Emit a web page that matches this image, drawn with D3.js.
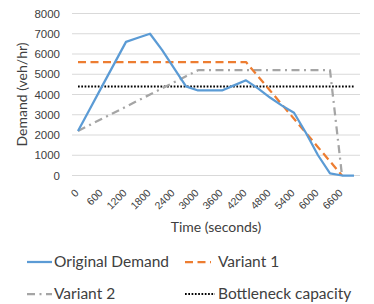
<!DOCTYPE html>
<html>
<head>
<meta charset="utf-8">
<script src="https://cdn.jsdelivr.net/npm/d3@7/dist/d3.min.js"></script>
<style>
  body { margin: 0; background: #fff; }
  svg { display: block; font-family: Lato, "Open Sans", sans-serif; }
</style>
</head>
<body>
<svg id="chart" width="374" height="304"></svg>
<script>
// time categories (seconds), one every 300 s
var times = [0, 300, 600, 900, 1200, 1500, 1800, 2100, 2400, 2700, 3000, 3300,
             3600, 3900, 4200, 4500, 4800, 5100, 5400, 5700, 6000, 6300, 6600, 6900];
var tickLabels = ["0", "600", "1200", "1800", "2400", "3000", "3600", "4200", "4800", "5400", "6000", "6600"];
var yTicks = [0, 1000, 2000, 3000, 4000, 5000, 6000, 7000, 8000];

var originalDemand = [2200, 3300, 4400, 5500, 6600, 6800, 7000, 6200, 5300, 4400, 4200, 4200,
                      4200, 4450, 4700, 4300, 3850, 3450, 3100, 2100, 1000, 100, 0, 0];
var variant1 = [5600, 5600, 5600, 5600, 5600, 5600, 5600, 5600, 5600, 5600, 5600, 5600,
                5600, 5600, 5600, 4900, 4200, 3500, 2800, 2100, 1400, 700, 0, null];
var variant2 = [2200, 2500, 2800, 3100, 3400, 3700, 4000, 4300, 4600, 4900, 5200, 5200,
                5200, 5200, 5200, 5200, 5200, 5200, 5200, 5200, 5200, 5200, 0, null];
var capacity = [4400, 4400, 4400, 4400, 4400, 4400, 4400, 4400, 4400, 4400, 4400, 4400,
                4400, 4400, 4400, 4400, 4400, 4400, 4400, 4400, 4400, 4400, 4400, 4400];

var svg = d3.select("#chart"),
    margin = {top: 13.5, right: 14, bottom: 128.5, left: 72},
    width = +svg.attr("width") - margin.left - margin.right,
    height = +svg.attr("height") - margin.top - margin.bottom,
    g = svg.append("g").attr("transform", "translate(" + margin.left + "," + margin.top + ")");

var x = d3.scalePoint()
    .domain(times)
    .range([0, width])
    .padding(0.5);

var y = d3.scaleLinear()
    .domain([0, 8000])
    .range([height, 0]);

var textColor = "#404040";

/* gridlines */
g.append("g")
    .attr("class", "grid")
  .selectAll("line")
  .data(yTicks)
  .enter().append("line")
    .attr("x1", 0)
    .attr("x2", width)
    .attr("y1", function(d) { return y(d); })
    .attr("y2", function(d) { return y(d); })
    .attr("stroke", "#d9d9d9")
    .attr("stroke-width", 1);

/* y axis */
var yAxis = g.append("g")
    .call(d3.axisLeft(y).tickValues(yTicks).tickSize(0).tickPadding(12).tickFormat(d3.format("d")));
yAxis.select(".domain").remove();
yAxis.selectAll("text")
    .attr("fill", textColor)
    .style("font-size", "11.5px");

/* x axis: label every second category */
var labelTimes = times.filter(function(t) { return tickLabels.indexOf(String(t)) >= 0; });
var xAxis = g.append("g")
    .attr("transform", "translate(0," + height + ")")
    .call(d3.axisBottom(x).tickValues(labelTimes).tickSize(0).tickFormat(function(d) { return String(d); }));
xAxis.select(".domain").remove();
xAxis.selectAll("text")
    .attr("fill", textColor)
    .style("font-size", "10.5px")
    .attr("text-anchor", "end")
    .attr("dy", null)
    .attr("y", 0)
    .attr("transform", "translate(1,18) rotate(-45)");

/* axis titles */
svg.append("text")
    .attr("x", margin.left + width / 2)
    .attr("y", 232)
    .attr("text-anchor", "middle")
    .attr("fill", textColor)
    .style("font-size", "14px")
    .text("Time (seconds)");

svg.append("text")
    .attr("transform", "translate(27," + (margin.top + height / 2) + ") rotate(-90)")
    .attr("text-anchor", "middle")
    .attr("fill", textColor)
    .style("font-size", "14px")
    .text("Demand (veh/hr)");

/* series */
var series = [
  {name: "Original Demand", values: originalDemand, color: "#5b9bd5", width: 2.25, dash: null},
  {name: "Variant 1", values: variant1, color: "#ed7d31", width: 2.25, dash: "8,4.5"},
  {name: "Variant 2", values: variant2, color: "#a5a5a5", width: 2.25, dash: "8,4.5,2,4.5"},
  {name: "Bottleneck capacity", values: capacity, color: "#000000", width: 2, dash: "1.7,1.6"}
];

var line = d3.line()
    .defined(function(d) { return d.v != null; })
    .x(function(d) { return x(d.t); })
    .y(function(d) { return y(d.v); });

var drawOrder = [3, 2, 1, 0];
drawOrder.forEach(function(i) {
  var s = series[i];
  g.append("path")
      .datum(times.map(function(t, j) { return {t: t, v: s.values[j]}; }))
      .attr("fill", "none")
      .attr("stroke", s.color)
      .attr("stroke-width", s.width)
      .attr("stroke-dasharray", s.dash)
      .attr("stroke-linejoin", "round")
      .attr("d", line);
});

/* legend */
var legendPos = [
  {x: 27, y: 262, len: 25}, {x: 185, y: 262, len: 26},
  {x: 27, y: 294, len: 25}, {x: 185, y: 294, len: 30}
];
var legend = svg.selectAll(".legend")
  .data(series)
  .enter().append("g")
    .attr("class", "legend")
    .attr("transform", function(d, i) { return "translate(" + legendPos[i].x + "," + legendPos[i].y + ")"; });

legend.append("line")
    .attr("x1", 0)
    .attr("x2", function(d, i) { return legendPos[i].len; })
    .attr("stroke", function(d) { return d.color; })
    .attr("stroke-width", function(d) { return d.width; })
    .attr("stroke-dasharray", function(d) { return d.dash; });

legend.append("text")
    .attr("x", function(d, i) { return i % 2 === 0 ? 27 : 33; })
    .attr("dy", "0.35em")
    .attr("fill", textColor)
    .style("font-size", "15.5px")
    .text(function(d) { return d.name; });
</script>
</body>
</html>
